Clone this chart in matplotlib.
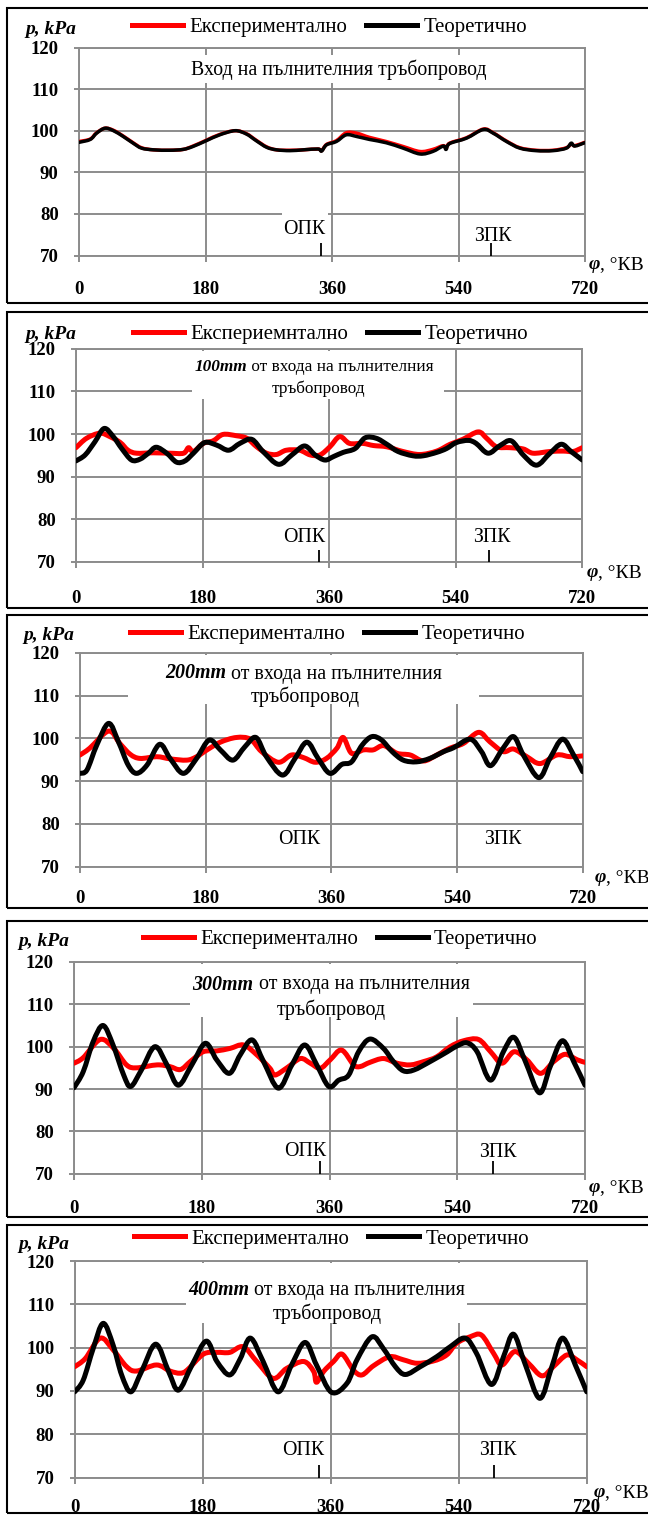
import matplotlib
matplotlib.use('Agg')
import matplotlib.pyplot as plt
from matplotlib.patches import Rectangle, PathPatch
from matplotlib.path import Path
from matplotlib.lines import Line2D

plt.rcParams['font.family'] = ['Liberation Serif', 'DejaVu Serif']

# ---------------- DATA ----------------
x_ticks = [0, 180, 360, 540, 720]
x_tick_labels = ['0', '180', '360', '540', '720']
y_ticks = [70, 80, 90, 100, 110, 120]
y_tick_labels = ['70', '80', '90', '100', '110', '120']

label_exp = 'Експериментално'
label_exp_p2 = 'Експериемнтално'
label_theo = 'Теоретично'
y_label = 'p, kPa'
x_label_sym = 'φ'
x_label_unit = ', °КВ'
opk_text = 'ОПК'
zpk_text = 'ЗПК'

title_p1 = 'Вход на пълнителния тръбопровод'
title_dist = ['100mm', '200mm', '300mm', '400mm']
title_rest1 = ' от входа на пълнителния'
title_rest2 = 'тръбопровод'

# Panel 1 - inlet
phi_p1 = [0, 16, 25, 37, 49, 63, 77, 89, 106, 129, 148, 162, 181, 200, 222, 238, 252, 267, 281, 300,
          319, 340, 345, 352, 366, 380, 395, 413, 437, 461, 485, 503, 518, 522, 527, 551, 575, 589,
          608, 627, 650, 674, 693, 700, 705, 719]
theo_p1 = [97.2, 97.9, 99.4, 100.6, 100.0, 98.6, 97.0, 95.8, 95.4, 95.3, 95.5, 96.2, 97.6, 99.0, 100.0,
           99.2, 97.6, 96.0, 95.4, 95.2, 95.4, 95.6, 95.1, 96.6, 97.4, 99.0, 98.6, 97.9, 97.1, 95.8,
           94.4, 95.0, 96.3, 95.5, 96.9, 98.2, 100.3, 99.4, 97.4, 95.8, 95.2, 95.2, 95.8, 97.0, 96.3, 97.1]
exp_p1 = [97.4, 98.0, 99.5, 100.6, 100.1, 98.7, 97.1, 95.9, 95.4, 95.3, 95.5, 96.3, 97.7, 99.1, 100.0,
          99.3, 97.7, 96.1, 95.4, 95.3, 95.4, 95.6, 95.2, 96.7, 97.6, 99.5, 99.4, 98.4, 97.4, 96.2,
          95.0, 95.5, 96.4, 95.7, 97.0, 98.3, 100.4, 99.5, 97.5, 95.9, 95.3, 95.3, 95.9, 96.8, 96.4, 97.2]

# Panel 2 - 100 mm
phi_t2 = [0, 13, 27, 40, 53, 65, 79, 91, 103, 114, 129, 143, 155, 167, 183, 200, 217, 233, 250, 266,
          288, 307, 325, 340, 354, 366, 380, 397, 411, 427, 442, 458, 479, 494, 513, 527, 541, 558,
          569, 586, 603, 619, 636, 655, 674, 690, 704, 720]
theo_p2 = [93.7, 95.1, 98.2, 101.3, 99.4, 96.6, 93.9, 94.1, 95.5, 96.9, 95.5, 93.4, 93.7, 95.5, 98.0,
           97.4, 96.2, 97.8, 98.75, 95.9, 92.9, 95.1, 97.2, 95.1, 93.9, 94.7, 95.7, 96.6, 99.1, 99.0,
           97.6, 95.9, 94.9, 94.9, 95.7, 96.6, 98.0, 98.5, 97.8, 95.5, 97.3, 98.4, 95.1, 92.7, 95.5,
           97.6, 95.9, 93.9]
phi_e2 = [0, 15, 34, 48, 63, 74, 86, 110, 134, 153, 160, 167, 181, 195, 209, 228, 243, 257, 271, 285,
          299, 318, 333, 347, 361, 375, 389, 408, 423, 442, 465, 489, 513, 532, 550, 572, 584, 598,
          617, 636, 650, 674, 693, 707, 720]
exp_p2 = [96.8, 99.0, 100.2, 99.4, 98.0, 96.2, 95.5, 95.6, 95.5, 95.5, 96.8, 95.9, 97.8, 98.4, 99.9,
          99.6, 99.0, 97.0, 95.5, 95.2, 96.2, 96.2, 95.1, 95.1, 97.0, 99.4, 97.8, 97.8, 97.3, 97.0,
          95.9, 95.2, 96.0, 97.6, 98.75, 100.5, 99.0, 97.0, 96.8, 96.5, 95.5, 95.9, 96.0, 95.9, 96.8]

# Panel 3 - 200 mm
phi_t3 = [0, 10, 24, 41, 55, 69, 81, 96, 114, 129, 148, 167, 185, 201, 219, 236, 252, 267, 290, 308,
          325, 341, 358, 375, 389, 404, 418, 432, 447, 463, 482, 501, 521, 535, 559, 575, 588, 606,
          621, 635, 657, 673, 691, 707, 720]
theo_p3 = [91.8, 92.6, 98.4, 103.5, 99.2, 93.75, 91.8, 93.75, 98.6, 95.3, 91.8, 95.3, 99.6, 97.3, 94.9,
           98.0, 100.2, 95.7, 91.4, 95.3, 99.1, 95.3, 91.8, 93.9, 94.5, 98.4, 100.4, 99.6, 96.9, 94.9,
           94.5, 95.3, 96.9, 97.8, 99.8, 96.9, 93.6, 97.7, 100.4, 96.1, 90.8, 95.3, 99.8, 96.1, 92.2]
phi_e3 = [0, 14, 41, 57, 72, 86, 110, 129, 153, 167, 182, 201, 224, 244, 260, 284, 303, 320, 337, 353,
          368, 377, 389, 406, 420, 435, 454, 473, 492, 511, 530, 549, 571, 587, 606, 621, 640, 659,
          683, 702, 720]
exp_p3 = [96.1, 97.7, 101.7, 98.8, 96.25, 95.3, 95.7, 95.2, 94.9, 95.7, 97.3, 99.1, 100.2, 99.8, 96.9,
          94.4, 96.1, 95.5, 94.4, 95.3, 97.7, 100.2, 96.5, 97.3, 97.3, 98.3, 96.5, 96.1, 94.7, 96.1,
          97.7, 98.8, 101.4, 99.2, 96.9, 97.5, 95.7, 94.1, 96.1, 95.7, 95.9]

# Panel 4 - 300 mm
phi_t4 = [0, 13, 27, 41, 55, 70, 80, 95, 114, 131, 147, 166, 185, 201, 219, 234, 251, 267, 288, 307,
          325, 342, 359, 373, 387, 401, 417, 436, 450, 464, 479, 502, 526, 540, 554, 568, 587, 605,
          620, 636, 656, 671, 688, 704, 720]
theo_p4 = [90.3, 94.1, 101.2, 105.0, 100.4, 93.3, 90.6, 94.5, 100.0, 95.7, 90.9, 95.7, 100.8, 96.9,
           93.7, 98.0, 101.6, 96.5, 90.2, 95.7, 100.4, 95.7, 90.6, 92.1, 93.3, 98.8, 101.8, 99.6, 96.5,
           94.3, 94.5, 96.5, 98.8, 100.2, 100.9, 98.8, 92.1, 98.8, 102.2, 96.5, 89.1, 95.3, 101.4, 96.5,
           90.9]
phi_e4 = [0, 13, 37, 56, 74, 88, 117, 135, 150, 164, 182, 201, 220, 239, 258, 276, 283, 300, 319, 333,
          347, 361, 377, 394, 403, 417, 436, 455, 474, 493, 511, 530, 549, 570, 587, 603, 620, 638,
          657, 676, 692, 709, 720]
exp_p4 = [96.1, 97.4, 101.7, 99.6, 95.7, 95.0, 95.7, 95.3, 94.6, 96.5, 98.8, 99.0, 99.6, 100.4, 98.0,
          94.9, 93.3, 95.0, 97.2, 96.1, 94.9, 96.9, 99.2, 95.7, 95.3, 96.3, 97.2, 96.1, 95.7, 96.5,
          97.6, 100.0, 101.4, 101.7, 98.8, 96.1, 98.8, 96.9, 93.7, 96.5, 98.2, 96.9, 96.3]

# Panel 5 - 400 mm
phi_t5 = [0, 12, 26, 40, 54, 66, 79, 94, 114, 132, 146, 165, 185, 200, 218, 233, 247, 265, 286, 305,
          324, 340, 361, 383, 397, 418, 434, 451, 465, 486, 509, 528, 549, 565, 586, 603, 617, 633,
          654, 671, 686, 704, 720]
theo_p5 = [89.8, 92.5, 99.8, 105.6, 100.6, 93.7, 89.8, 94.5, 100.8, 94.5, 90.2, 96.0, 101.5, 96.8, 93.7,
           97.5, 102.2, 96.8, 89.8, 96.0, 101.2, 96.0, 89.7, 91.8, 97.2, 102.5, 99.8, 95.6, 93.8, 95.6,
           97.9, 100.2, 102.2, 98.7, 91.5, 97.9, 103.1, 96.4, 88.3, 95.6, 102.2, 96.0, 89.8]
phi_e5 = [0, 15, 36, 54, 73, 87, 115, 134, 148, 158, 181, 200, 218, 237, 256, 279, 298, 322, 336, 340,
          350, 364, 376, 392, 404, 420, 443, 462, 481, 504, 523, 537, 556, 572, 589, 601, 619, 638,
          657, 673, 692, 706, 720]
exp_p5 = [95.6, 97.5, 102.2, 99.5, 95.6, 94.6, 96.0, 94.6, 94.1, 94.8, 98.5, 98.9, 98.9, 100.2, 96.8,
          92.9, 95.2, 96.8, 94.5, 92.0, 94.5, 96.8, 98.5, 94.8, 93.7, 95.8, 97.9, 97.2, 96.4, 96.9,
          98.3, 101.0, 102.5, 102.9, 98.7, 96.0, 99.1, 96.4, 93.5, 95.6, 98.3, 97.2, 95.6]

# ---------------- LAYOUT ----------------
W, H = 648, 1515
GRID = '#8c8c8c'
RED = '#ff0000'

panels = [
    dict(axes=(79, 585.3, 47.5, 255.5), frame=(8, 303), lw=2.5,
         pe=phi_p1, ve=exp_p1, pt=phi_p1, vt=theo_p1, lab_e=label_exp,
         leg=(132, 27), plab=(25, 27), phil=(589, 262), xpad=14.5,
         title=[[(title_p1, 'r')]], tcent=[(338.5, 68)], tfs=14.3,
         box=(185, 492, 55, 83),
         opk=(304, 227, 344), zpk=(492.5, 234, 586), opkbox=(282, 328, 213, 243)),
    dict(axes=(76, 582.3, 348.7, 562.0), frame=(312, 608), lw=3.6,
         pe=phi_e2, ve=exp_p2, pt=phi_t2, vt=theo_p2, lab_e=label_exp_p2,
         leg=(133, 334), plab=(25, 332), phil=(587, 570), xpad=16,
         title=[[(title_dist[0], 'bi'), (title_rest1, 'r')], [(title_rest2, 'r')]],
         tcent=[(314.5, 365), (318, 386.7)], tfs=12.4,
         box=(192, 444, 351, 399),
         opk=(304, 535, 346), zpk=(492, 535, 588), opkbox=None),
    dict(axes=(80, 582.7, 652.9, 866.5), frame=(615, 908), lw=3.6,
         pe=phi_e3, ve=exp_p3, pt=phi_t3, vt=theo_p3, lab_e=label_exp,
         leg=(130, 634), plab=(23, 633), phil=(595, 875), xpad=13,
         title=[[(title_dist[1], 'bi'), (title_rest1, 'r')], [(title_rest2, 'r')]],
         tcent=[(304, 671.7), (304.8, 695)], tfs=14.4,
         box=(128, 479, 655, 704),
         opk=(299.6, 837.7, None), zpk=(503, 837.7, None), opkbox=None),
    dict(axes=(74, 585, 962, 1173.7), frame=(921, 1217), lw=3.6,
         pe=phi_e4, ve=exp_p4, pt=phi_t4, vt=theo_p4, lab_e=label_exp,
         leg=(142.6, 939), plab=(18.6, 939), phil=(589, 1185), xpad=15,
         title=[[(title_dist[2], 'bi'), (title_rest1, 'r')], [(title_rest2, 'r')]],
         tcent=[(331, 982.7), (331, 1008)], tfs=14.4,
         box=(190, 473, 964, 1017),
         opk=(304.8, 1149, 346), zpk=(497.5, 1150, 591), opkbox=None),
    dict(axes=(74.7, 586.7, 1261, 1477.6), frame=(1225, 1513), lw=3.6,
         pe=phi_e5, ve=exp_p5, pt=phi_t5, vt=theo_p5, lab_e=label_exp,
         leg=(134, 1239), plab=(18.6, 1242), phil=(594, 1490), xpad=11.5,
         title=[[(title_dist[3], 'bi'), (title_rest1, 'r')], [(title_rest2, 'r')]],
         tcent=[(326.4, 1288), (327.5, 1311.7)], tfs=14.4,
         box=(186, 467, 1263, 1323),
         opk=(302.7, 1448, 344), zpk=(497.5, 1448, 589), opkbox=None),
]

fig = plt.figure(figsize=(W / 100, H / 100), dpi=100)
fig.patch.set_facecolor('white')
renderer = fig.canvas.get_renderer()

STYLE = {'r': dict(fontweight='normal', fontstyle='normal'),
         'bi': dict(fontweight='bold', fontstyle='italic'),
         'b': dict(fontweight='bold', fontstyle='normal')}


def fxy(x, y):
    return x / W, 1 - y / H


def place(pieces, x, cy, fs, align='center'):
    """Place a run of differently styled text pieces on one line (pixel coords)."""
    base = cy + 0.34 * fs * 100 / 72
    texts, widths = [], []
    for s, st in pieces:
        t = fig.text(0, 1 - base / H, s, fontsize=fs, va='baseline', ha='left', **STYLE[st])
        texts.append(t)
        widths.append(t.get_window_extent(renderer).width)
    total = sum(widths)
    start = x - total / 2 if align == 'center' else x
    for t, w in zip(texts, widths):
        t.set_x(start / W)
        start += w


def smooth_path(xs, ys):
    """Excel-style smoothed line: cubic Bezier segments through the data points."""
    pts = list(zip(xs, ys))
    n = len(pts)
    verts = [pts[0]]
    codes = [Path.MOVETO]
    for i in range(n - 1):
        p0 = pts[i - 1] if i > 0 else pts[i]
        p1 = pts[i]
        p2 = pts[i + 1]
        p3 = pts[i + 2] if i + 2 < n else pts[i + 1]
        c1 = (p1[0] + (p2[0] - p0[0]) / 6, p1[1] + (p2[1] - p0[1]) / 6)
        c2 = (p2[0] - (p3[0] - p1[0]) / 6, p2[1] - (p3[1] - p1[1]) / 6)
        verts += [c1, c2, p2]
        codes += [Path.CURVE4] * 3
    return Path(verts, codes)


for P in panels:
    x0, x1, y120, y70 = P['axes']
    ax = fig.add_axes([x0 / W, 1 - y70 / H, (x1 - x0) / W, (y70 - y120) / H])
    ax.set_xlim(0, 720)
    ax.set_ylim(70, 120)
    ax.set_axisbelow(True)
    ax.grid(True, color=GRID, lw=1.4)
    for s in ax.spines.values():
        s.set_color(GRID)
        s.set_linewidth(1.4)
    ax.set_xticks(x_ticks)
    ax.set_xticklabels(x_tick_labels, fontsize=13.5, fontweight='bold')
    ax.set_yticks(y_ticks)
    ax.set_yticklabels(y_tick_labels, fontsize=13.5, fontweight='bold')
    ax.tick_params(axis='x', direction='out', length=4, width=1.4, color=GRID, pad=P['xpad'])
    ax.tick_params(axis='y', direction='out', length=3.6, width=1.4, color=GRID, pad=11)

    def to_data(px, py):
        return (px - x0) / (x1 - x0) * 720, 120 - (py - y120) / (y70 - y120) * 50

    ax.add_patch(PathPatch(smooth_path(P['pe'], P['ve']), fill=False, edgecolor=RED,
                           lw=P['lw'], capstyle='round', joinstyle='round', zorder=3))
    ax.add_patch(PathPatch(smooth_path(P['pt'], P['vt']), fill=False, edgecolor='black',
                           lw=P['lw'], capstyle='round', joinstyle='round', zorder=4))
    le = Line2D([], [], color=RED, lw=3.6, label=P['lab_e'])
    lt = Line2D([], [], color='black', lw=3.6, label=label_theo)

    # white text boxes hiding the grid
    bx0, bx1, by0, by1 = P['box']
    dx0, dy0 = to_data(bx0, by1)
    dx1, dy1 = to_data(bx1, by0)
    ax.add_patch(Rectangle((dx0, dy0), dx1 - dx0, dy1 - dy0, facecolor='white',
                           edgecolor='none', zorder=1.5))
    if P['opkbox']:
        bx0, bx1, by0, by1 = P['opkbox']
        dx0, dy0 = to_data(bx0, by1)
        dx1, dy1 = to_data(bx1, by0)
        ax.add_patch(Rectangle((dx0, dy0), dx1 - dx0, dy1 - dy0, facecolor='white',
                               edgecolor='none', zorder=1.5))

    # valve marks
    for mark in (P['opk'][2], P['zpk'][2]):
        if mark is not None:
            ax.plot([mark, mark], [70, 72.9], color='black', lw=1.3, zorder=5,
                    solid_capstyle='butt')

    # legend
    lx, ly = P['leg']
    ax.legend(handles=[le, lt], loc='center left', bbox_to_anchor=fxy(lx, ly),
              bbox_transform=fig.transFigure, ncol=2, frameon=False, fontsize=15,
              handlelength=2.45, handletextpad=0.3, columnspacing=0.9,
              borderpad=0, borderaxespad=0)

    # frame
    top, bot = P['frame']
    fig.add_artist(Rectangle(fxy(7, bot), (700 - 7) / W, (bot - top) / H,
                             transform=fig.transFigure, fill=False, edgecolor='black', lw=1.5))

    # texts
    place([(y_label, 'bi')], P['plab'][0], P['plab'][1], 14, align='left')
    place([(x_label_sym, 'bi'), (x_label_unit, 'r')], P['phil'][0], P['phil'][1], 14, align='left')
    for line, (cx, cy) in zip(P['title'], P['tcent']):
        place(line, cx, cy, P['tfs'])
    place([(opk_text, 'r')], P['opk'][0], P['opk'][1], 14.3)
    place([(zpk_text, 'r')], P['zpk'][0], P['zpk'][1], 14.3)

fig.savefig('out.png', dpi=100, facecolor='white')
